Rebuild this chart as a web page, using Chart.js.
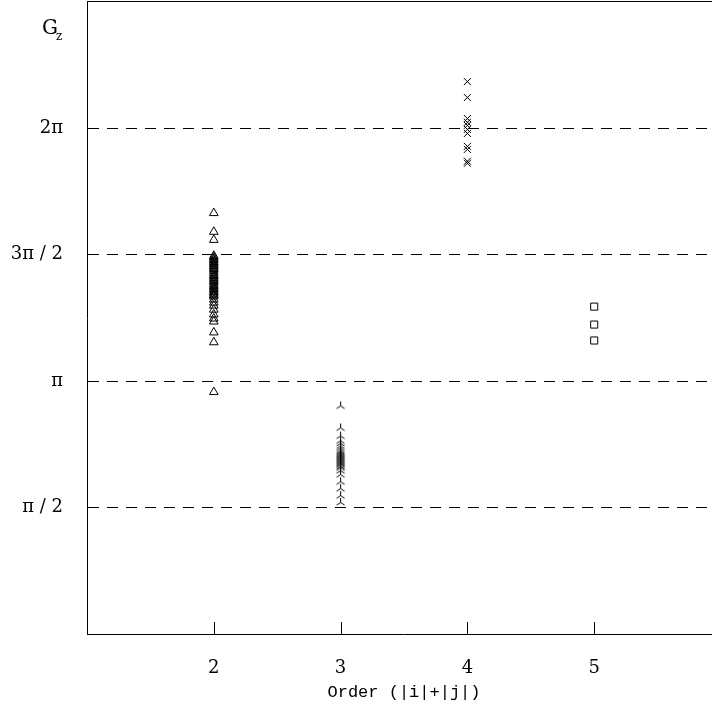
<!DOCTYPE html>
<html>
<head>
<meta charset="utf-8">
<script src="https://cdn.jsdelivr.net/npm/chart.js@4/dist/chart.umd.min.js"></script>
<style>
  html, body { margin: 0; padding: 0; background: #fff; overflow: hidden; }
  #wrap { width: 712px; height: 713px; overflow: hidden; }
</style>
</head>
<body>
<div id="wrap"><canvas id="grafica" width="740" height="713"></canvas></div>
<script>
// valores de G_z en unidades de pi, por orden (|i|+|j|)
const ordenes = [2, 3, 4, 5];
const ticksY = [0.5, 1, 1.5, 2];
const etiquetasY = ['\u03c0 / 2', '\u03c0', '3\u03c0 / 2', '2\u03c0'];

const gzOrden2 = [1.665, 1.591, 1.559, 1.496, 1.490, 1.484, 1.478, 1.472, 1.466, 1.461, 1.455,
  1.449, 1.443, 1.437, 1.429, 1.421, 1.415, 1.409, 1.402, 1.396, 1.390, 1.382, 1.376, 1.370,
  1.364, 1.358, 1.352, 1.346, 1.340, 1.335, 1.323, 1.311, 1.299, 1.283, 1.264, 1.248, 1.236,
  1.193, 1.154, 0.957];
const gzOrden3 = [0.902, 0.815, 0.783, 0.764, 0.754, 0.744, 0.736, 0.728, 0.722, 0.717, 0.713,
  0.709, 0.705, 0.701, 0.697, 0.693, 0.689, 0.685, 0.681, 0.677, 0.673, 0.669, 0.663, 0.657,
  0.646, 0.630, 0.602, 0.575, 0.547, 0.520];
const gzOrden4 = [2.185, 2.122, 2.039, 2.024, 2.012, 1.996, 1.980, 1.929, 1.917, 1.870, 1.862];
const gzOrden5 = [1.295, 1.224, 1.161];

// marcador de tres brazos (uno arriba, dos abajo)
function marcadorTri() {
  const c = document.createElement('canvas');
  c.width = 11; c.height = 11;
  const g = c.getContext('2d');
  g.strokeStyle = '#000';
  g.lineWidth = 1;
  g.beginPath();
  g.moveTo(5.5, 5.5); g.lineTo(5.5, 1);
  g.moveTo(5.5, 5.5); g.lineTo(1.5, 8);
  g.moveTo(5.5, 5.5); g.lineTo(9.5, 8);
  g.stroke();
  return c;
}

function puntos(x, valores) {
  return valores.map(v => ({ x: x, y: v }));
}

// marco superior, marcas interiores del eje x y la etiqueta G_z
const extras = {
  id: 'extras',
  afterDraw(chart) {
    const ctx = chart.ctx;
    const area = chart.chartArea;
    const x = chart.scales.x;
    ctx.save();
    ctx.strokeStyle = '#000';
    ctx.lineWidth = 1;
    ctx.beginPath();
    ctx.moveTo(area.left, area.top - 0.5);
    ctx.lineTo(area.right, area.top - 0.5);
    ordenes.forEach(o => {
      const px = Math.round(x.getPixelForValue(o)) + 0.5;
      ctx.moveTo(px, area.bottom);
      ctx.lineTo(px, area.bottom - 12);
    });
    ctx.stroke();
    ctx.fillStyle = '#000';
    ctx.textBaseline = 'alphabetic';
    ctx.font = '20px "DejaVu Serif"';
    ctx.fillText('G', 42, 34);
    ctx.font = '12px "DejaVu Serif"';
    ctx.fillText('z', 56, 40);
    ctx.restore();
  }
};

const serie = (valores, x, estilo, radio) => ({
  data: puntos(x, valores),
  pointStyle: estilo,
  pointRadius: radio,
  borderColor: '#000',
  backgroundColor: 'rgba(0,0,0,0)',
  borderWidth: 1,
  showLine: false
});

new Chart(document.getElementById('grafica'), {
  type: 'scatter',
  data: {
    datasets: [
      serie(gzOrden2, ordenes[0], 'triangle', 5),
      serie(gzOrden3, ordenes[1], marcadorTri(), 5),
      serie(gzOrden4, ordenes[2], 'crossRot', 5),
      serie(gzOrden5, ordenes[3], 'rect', 5)
    ]
  },
  options: {
    responsive: false,
    animation: false,
    layout: { autoPadding: false, padding: { top: 2, right: 19, left: 0, bottom: 0 } },
    plugins: { legend: { display: false }, tooltip: { enabled: false } },
    scales: {
      x: {
        type: 'linear',
        min: 1,
        max: 6,
        afterBuildTicks: s => { s.ticks = ordenes.map(v => ({ value: v })); },
        afterFit: s => {
          s.height = 79;
          s.paddingLeft = 0; s.paddingRight = 0;
        },
        grid: { drawOnChartArea: false, drawTicks: false },
        border: { display: true, color: '#000', width: 1 },
        ticks: {
          color: '#000',
          padding: 24,
          font: { family: 'DejaVu Serif', size: 18 }
        },
        title: {
          display: true,
          text: 'Order (|i|+|j|)',
          color: '#000',
          font: { family: 'Liberation Mono', size: 17 },
          padding: { top: 0, bottom: 10 }
        }
      },
      y: {
        min: 0,
        max: 2.5,
        afterBuildTicks: s => { s.ticks = ticksY.map(v => ({ value: v })); },
        afterFit: s => {
          s.width = 87;
          s.paddingTop = 0; s.paddingBottom = 0;
        },
        grid: { color: '#000', lineWidth: 1, drawTicks: false },
        border: { display: true, color: '#000', width: 1, dash: [11, 8] },
        ticks: {
          color: '#000',
          padding: 24,
          font: { family: 'DejaVu Serif', size: 18 },
          callback: v => etiquetasY[ticksY.indexOf(v)]
        }
      }
    }
  },
  plugins: [extras]
});
</script>
</body>
</html>
